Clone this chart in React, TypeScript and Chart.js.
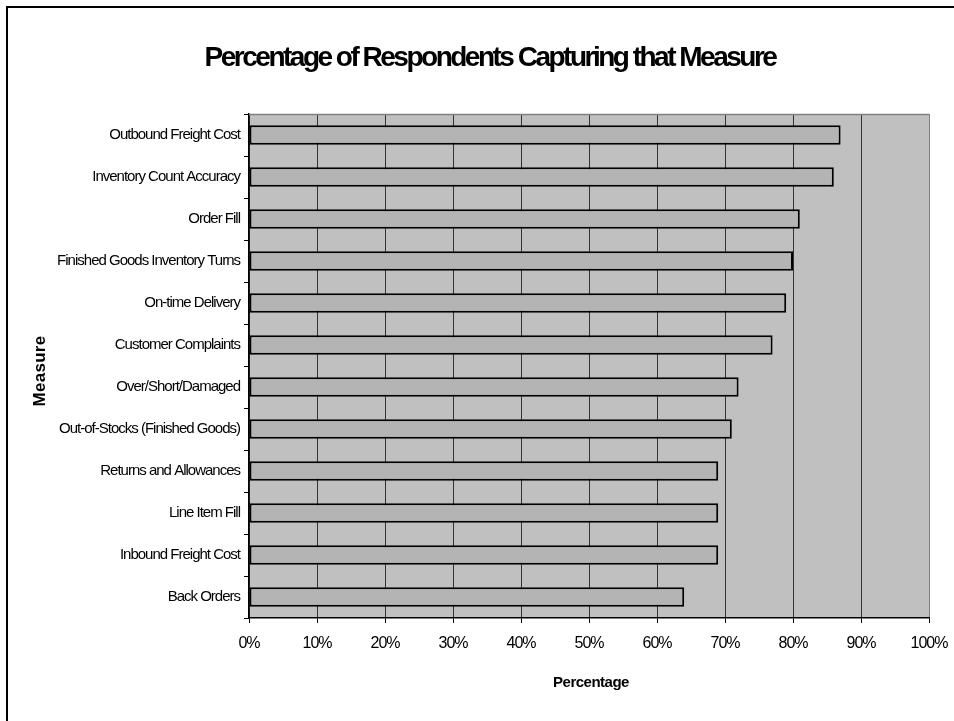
import React, { useEffect, useRef } from "react";
import { Chart, registerables } from "chart.js";

Chart.register(...registerables);

// Measures, listed top to bottom
const measures: string[] = [
  "Outbound Freight Cost",
  "Inventory Count Accuracy",
  "Order Fill",
  "Finished Goods Inventory Turns",
  "On-time Delivery",
  "Customer Complaints",
  "Over/Short/Damaged",
  "Out-of-Stocks (Finished Goods)",
  "Returns and Allowances",
  "Line Item Fill",
  "Inbound Freight Cost",
  "Back Orders",
];

// Percentage of respondents capturing each measure
const percentCapturing: number[] = [87, 86, 81, 80, 79, 77, 72, 71, 69, 69, 69, 64];

const chartTitle = "Percentage of Respondents Capturing that Measure";
const xAxisTitle = "Percentage";
const yAxisTitle = "Measure";

const FONT = "'Liberation Sans', Arial, Helvetica, sans-serif";

// Tight letter spacing for every label the library draws
const spacingPlugin = {
  id: "tightText",
  beforeUpdate(chart: any) {
    chart.ctx.letterSpacing = "-1px";
  },
  beforeLayout(chart: any) {
    chart.ctx.letterSpacing = "-1px";
  },
  beforeDraw(chart: any) {
    chart.ctx.letterSpacing = "-1px";
  },
};

// Plot background, frame, heading and axis titles
const decorPlugin = {
  id: "decor",
  beforeDraw(chart: any) {
    const { ctx, chartArea } = chart;
    ctx.save();
    ctx.fillStyle = "#C0C0C0";
    ctx.fillRect(chartArea.left, chartArea.top, chartArea.right - chartArea.left, chartArea.bottom - chartArea.top);
    ctx.restore();
  },
  beforeDatasetsDraw(chart: any) {
    const { ctx, chartArea } = chart;
    ctx.save();
    ctx.strokeStyle = "#808080";
    ctx.lineWidth = 1.5;
    ctx.beginPath();
    ctx.moveTo(chartArea.left, chartArea.top + 0.5);
    ctx.lineTo(chartArea.right, chartArea.top + 0.5);
    ctx.stroke();
    ctx.restore();
  },
  afterDraw(chart: any) {
    const { ctx, chartArea, width, height } = chart;
    ctx.save();
    // outer frame
    ctx.strokeStyle = "#000";
    ctx.lineWidth = 2;
    ctx.beginPath();
    ctx.moveTo(7, height);
    ctx.lineTo(7, 7);
    ctx.lineTo(width, 7);
    ctx.stroke();

    ctx.fillStyle = "#000";
    // heading
    ctx.letterSpacing = "-2.5px";
    ctx.font = `bold 28px ${FONT}`;
    ctx.textAlign = "center";
    ctx.textBaseline = "alphabetic";
    ctx.fillText(chartTitle, 490, 66);

    // x axis title
    ctx.letterSpacing = "-0.5px";
    ctx.font = `bold 15px ${FONT}`;
    ctx.textBaseline = "middle";
    ctx.fillText(xAxisTitle, (chartArea.left + chartArea.right) / 2 + 2, 683);

    // y axis title
    ctx.letterSpacing = "0.3px";
    ctx.font = `bold 17px ${FONT}`;
    ctx.translate(40, (chartArea.top + chartArea.bottom) / 2 + 5);
    ctx.rotate(-Math.PI / 2);
    ctx.fillText(yAxisTitle, 0, 0);
    ctx.restore();
  },
};

export default function App() {
  const canvasRef = useRef<HTMLCanvasElement | null>(null);

  useEffect(() => {
    const canvas = canvasRef.current;
    if (!canvas) return;
    const chart = new Chart(canvas, {
      type: "bar",
      data: {
        labels: measures,
        datasets: [
          {
            data: percentCapturing,
            backgroundColor: "#B4B4B4",
            borderColor: "#000000",
            borderWidth: 2,
            borderSkipped: false,
            barPercentage: 0.92,
            categoryPercentage: 0.5,
          },
        ],
      },
      options: {
        indexAxis: "y",
        responsive: false,
        maintainAspectRatio: false,
        devicePixelRatio: 1,
        animation: false,
        events: [],
        layout: { padding: { top: 114, left: 0, right: 25, bottom: 0 } },
        plugins: {
          legend: { display: false },
          title: { display: false },
          tooltip: { enabled: false },
        },
        scales: {
          x: {
            type: "linear",
            position: "bottom",
            min: 0,
            max: 100,
            ticks: {
              stepSize: 10,
              color: "#000",
              padding: 11,
              maxRotation: 0,
              font: { family: FONT, size: 16 },
              callback: (v: any) => `${v}%`,
            },
            grid: {
              color: (c: any) => (c.tick && c.tick.value === 100 ? "#808080" : "#333333"),
              lineWidth: 1,
              drawOnChartArea: true,
              drawTicks: true,
              tickLength: 5,
              tickColor: "#000",
            },
            border: { display: true, color: "#000", width: 1.5 },
            afterFit: (scale: any) => {
              scale.height = 103;
              scale.paddingLeft = 0;
              scale.paddingRight = 0;
            },
          },
          y: {
            type: "category",
            position: "left",
            ticks: {
              color: "#000",
              padding: 4,
              font: { family: FONT, size: 15 },
              autoSkip: false,
            },
            grid: {
              display: true,
              drawOnChartArea: false,
              drawTicks: true,
              tickLength: 5,
              color: "#000",
              tickColor: "#000",
            },
            border: { display: true, color: "#000", width: 1.5 },
            afterFit: (scale: any) => {
              scale.width = 249;
            },
          },
        },
      } as any,
      plugins: [spacingPlugin, decorPlugin],
    });
    return () => chart.destroy();
  }, []);

  return (
    <canvas
      ref={canvasRef}
      width={954}
      height={721}
      style={{ position: "fixed", left: 0, top: 0, width: 954, height: 721, display: "block", background: "#fff" }}
    />
  );
}
